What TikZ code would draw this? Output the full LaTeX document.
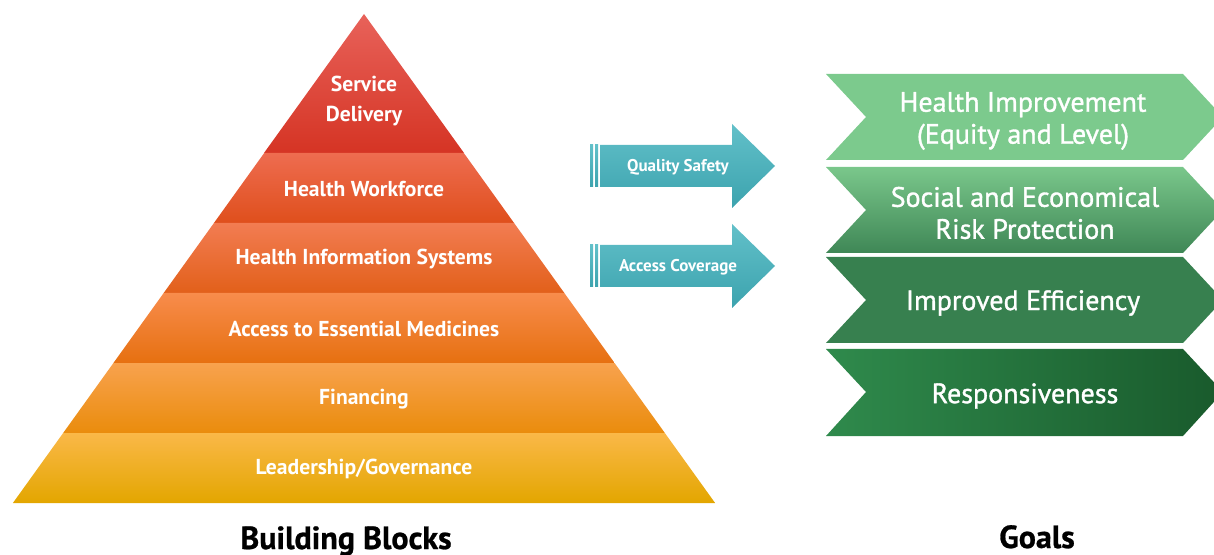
\documentclass[tikz,border=0pt]{standalone}
\usepackage{fontspec}
\setmainfont{PT Sans}
\usetikzlibrary{calc}

% pyramid band colours (top / bottom of each band)
\definecolor{sdTop}{HTML}{E8625A}
\definecolor{sdBot}{HTML}{D53424}
\definecolor{hwTop}{HTML}{EE6C50}
\definecolor{hwBot}{HTML}{DF4F1C}
\definecolor{hiTop}{HTML}{F27C52}
\definecolor{hiBot}{HTML}{E2601A}
\definecolor{amTop}{HTML}{F88C4C}
\definecolor{amBot}{HTML}{E67010}
\definecolor{fiTop}{HTML}{F8A24E}
\definecolor{fiBot}{HTML}{EA8C0C}
\definecolor{lgTop}{HTML}{FAB848}
\definecolor{lgBot}{HTML}{E3A600}
% arrows and goals
\definecolor{tealTop}{HTML}{62C0C9}
\definecolor{tealBot}{HTML}{3CA3AE}
\definecolor{goalA}{HTML}{7CCA8D}
\definecolor{goalBtop}{HTML}{7AC78B}
\definecolor{goalBbot}{HTML}{3F8756}
\definecolor{goalC}{HTML}{37804F}
\definecolor{goalDl}{HTML}{2F8A4C}
\definecolor{goalDr}{HTML}{195A2C}

\tikzset{
  blocklabel/.style={text=white,font=\bfseries\fontsize{10.8}{15}\selectfont,align=center},
  goallabel/.style={text=white,font=\fontsize{14}{16}\selectfont\addfontfeatures{FakeBold=1.2},align=center},
  arrowlabel/.style={text=white,font=\bfseries\fontsize{8.5}{10}\selectfont},
  caption/.style={text=black,anchor=base,font=\bfseries\fontsize{16}{18}\selectfont\addfontfeatures{FakeBold=0.8}},
}

\begin{document}
\begin{tikzpicture}[x=0.5pt,y=-0.5pt]
  \useasboundingbox (0,0) rectangle (1214,555);

  % pyramid: apex at (364,14), sides spread 0.718 per unit down
  \shade[top color=sdTop,bottom color=sdBot] (364,14) -- (464,153) -- (264,153) -- cycle;
  \foreach \ya/\yb/\ct/\cb in {153/223/hwTop/hwBot,223/293/hiTop/hiBot,293/363/amTop/amBot,
                               363/433/fiTop/fiBot,433/503/lgTop/lgBot}{
    \pgfmathsetmacro\da{0.718*(\ya-14)}
    \pgfmathsetmacro\db{0.718*(\yb-14)}
    \shade[top color=\ct,bottom color=\cb]
      (364-\da,\ya) -- (364+\da,\ya) -- (364+\db,\yb) -- (364-\db,\yb) -- cycle;
  }
  \node[blocklabel] (sd) at (364,101) {Service\\Delivery};
  \node[blocklabel] (hw) at (364,189) {Health Workforce};
  \node[blocklabel] (hi) at (364,259) {Health Information Systems};
  \node[blocklabel] (am) at (364,329) {Access to Essential Medicines};
  \node[blocklabel] (fi) at (364,399) {Financing};
  \node[blocklabel] (lg) at (364,469) {Leadership/Governance};
  \node[caption] (bb) at (346,549) {Building Blocks};

  % teal arrows between the pyramid and the goals
  \foreach \yc/\nm/\txt in {166/qs/Quality Safety,266/ac/Access Coverage}{
    \shade[top color=tealTop,bottom color=tealBot] (590,\yc-21) rectangle (593,\yc+21);
    \shade[top color=tealTop,bottom color=tealBot] (595,\yc-21) rectangle (598,\yc+21);
    \shade[top color=tealTop,bottom color=tealBot]
      (600,\yc-21) -- (732,\yc-21) -- (732,\yc-42) -- (775,\yc) -- (732,\yc+42)
      -- (732,\yc+21) -- (600,\yc+21) -- cycle;
    \node[arrowlabel] (\nm) at (678,\yc+1) {\txt};
  }

  % goal chevrons
  \fill[goalA] (826,74) -- (1183,74) -- (1223,117) -- (1183,160) -- (826,160) -- (866,117) -- cycle;
  \shade[top color=goalBtop,bottom color=goalBbot]
    (826,167) -- (1183,167) -- (1223,210) -- (1183,253) -- (826,253) -- (866,210) -- cycle;
  \fill[goalC] (826,257) -- (1183,257) -- (1223,300) -- (1183,343) -- (826,343) -- (866,300) -- cycle;
  \shade[left color=goalDl,right color=goalDr]
    (826,349) -- (1183,349) -- (1223,392) -- (1183,436) -- (826,436) -- (866,392) -- cycle;
  \node[goallabel] (hi1) at (1023,121) {Health Improvement\\(Equity and Level)};
  \node[goallabel] (sr) at (1025,213) {Social and Economical\\Risk Protection};
  \node[goallabel] (ie) at (1023,303) {Improved Efficiency};
  \node[goallabel] (rs) at (1025,396) {Responsiveness};
  \node[caption] (gl) at (1037,548) {Goals};
\end{tikzpicture}
\end{document}
